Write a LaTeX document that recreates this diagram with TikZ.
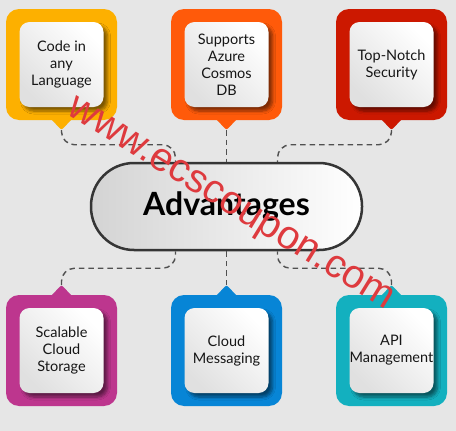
\documentclass[tikz,border=0pt]{standalone}
\usepackage{fontspec}
\setmainfont{Lato}
\newfontfamily\wmfont{Liberation Sans}
\usetikzlibrary{calc,shadows.blur}
\definecolor{bg}{HTML}{E6E6E6}
\definecolor{cOrange}{HTML}{FDB000}
\definecolor{cOrRed}{HTML}{FF5A0A}
\definecolor{cRed}{HTML}{CC1800}
\definecolor{cMagenta}{HTML}{BD368E}
\definecolor{cBlue}{HTML}{0785D6}
\definecolor{cTeal}{HTML}{13B0BF}
\definecolor{txt}{HTML}{161616}
\definecolor{dashc}{HTML}{505050}
\definecolor{pillb}{HTML}{353535}
\definecolor{wmred}{HTML}{DE3A3E}
\newcommand{\mycallout}[6]{%
  \fill[#4, rounded corners=2pt] ($(#2,#3)+(-11,#6*54)$) -- ($(#2,#3)+(0,#6*65.5)$) -- ($(#2,#3)+(11,#6*54)$) -- cycle;
  \node[outerbox, fill=#4] (b#1) at (#2,#3) {};
  \coordinate (t#1) at ($(#2,#3)+(0,#6*65.5)$);
  \node[innerbox] (i#1) at (#2,#3) {};
  \node[boxtext] (l#1) at (#2,#3) {#5};
}
\begin{document}
\begin{tikzpicture}[x=1pt,y=-1pt,
  outerbox/.style={rectangle, rounded corners=13pt, minimum width=111pt, minimum height=111pt, inner sep=0pt},
  innerbox/.style={rectangle, rounded corners=10pt, minimum width=84pt, minimum height=85pt, inner sep=0pt,
    top color=white, bottom color=black!12, shading angle=-45,
    blur shadow={shadow xshift=4pt, shadow yshift=-4pt, shadow blur steps=6, shadow opacity=50, shadow blur radius=3pt}},
  boxtext/.style={align=center, font=\fontsize{14.5}{17}\selectfont, text=txt, inner sep=0pt},
  pill/.style={rectangle, rounded corners=43pt, minimum width=271pt, minimum height=87pt, draw=pillb, line width=2.5pt,
    left color=black!17, right color=white, font=\fontsize{32}{38}\selectfont\bfseries, text=black},
  conn/.style={draw=dashc, line width=1.4pt, dash pattern=on 5.5pt off 4pt, rounded corners=13pt},
  wm/.style={text=wmred, font=\wmfont\fontsize{40}{40}\selectfont, rotate=-31.6, inner sep=0pt}
]
\useasboundingbox (0,0) rectangle (456,431);
\fill[bg] (0,0) rectangle (456,431);

\mycallout{1}{61.5}{64.5}{cOrange}{Code in\\any\\Language}{1}
\mycallout{2}{226.5}{64.5}{cOrRed}{Supports\\Azure\\Cosmos\\DB}{1}
\mycallout{3}{391.5}{64.5}{cRed}{Top-Notch\\Security}{1}
\mycallout{4}{61.5}{350.5}{cMagenta}{Scalable\\Cloud\\Storage}{-1}
\mycallout{5}{226.5}{350.5}{cBlue}{Cloud\\Messaging}{-1}
\mycallout{6}{391.5}{350.5}{cTeal}{API\\Management}{-1}

\node[pill] (adv) at (226.5,206.5) {Advantages};

\draw[conn] (t1) |- ($(adv.north)+(-51,-17)$) -- ($(adv.north)+(-51,0)$);
\draw[conn] (t2) -- (adv.north);
\draw[conn] (t3) |- ($(adv.north)+(51,-17)$) -- ($(adv.north)+(51,0)$);
\draw[conn] (t4) |- ($(adv.south)+(-51,17)$) -- ($(adv.south)+(-51,0)$);
\draw[conn] (t5) -- (adv.south);
\draw[conn] (t6) |- ($(adv.south)+(51,17)$) -- ($(adv.south)+(51,0)$);

\node[wm] (wmk) at (229,206) {www.ecscoupon.com};
\end{tikzpicture}
\end{document}
